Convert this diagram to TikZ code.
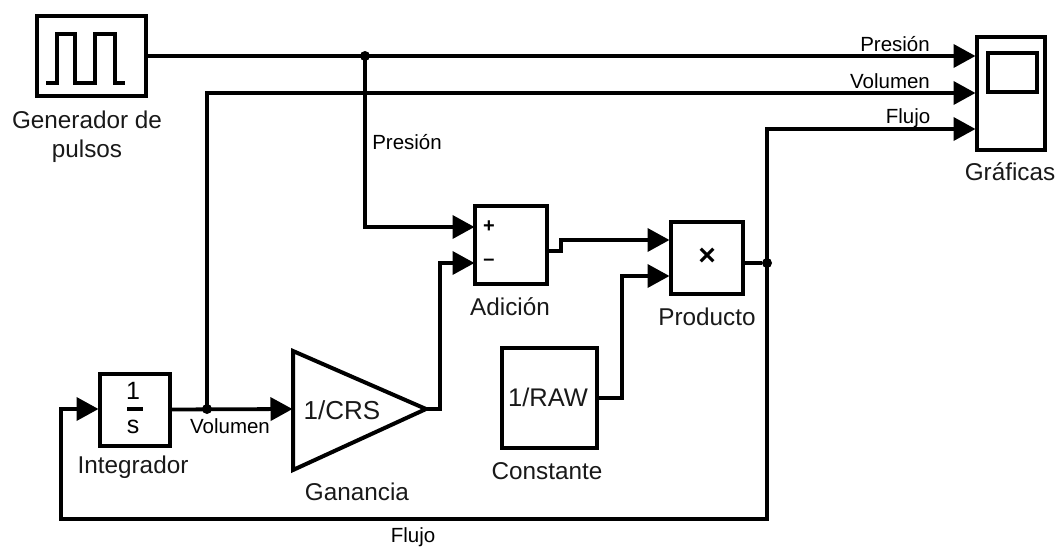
\documentclass[tikz,border=0pt]{standalone}
\usepackage{fontspec}
\setmainfont{Liberation Sans}
\usetikzlibrary{arrows.meta}
\tikzset{
  block/.style={draw=black,fill=white,line width=4pt,minimum width=#1,inner sep=0pt,outer sep=0pt},
  wire/.style={line width=3.8pt,draw=black,line join=miter},
  sig/.style={wire,-{Triangle[length=22pt,width=23pt]},shorten >=-0.5pt},
  bigl/.style={inner sep=0pt,font=\fontsize{24.3}{29}\selectfont,align=center,text=black!90},
  smalll/.style={inner sep=0pt,font=\fontsize{20.5}{22}\selectfont,text=black},
  dotn/.style={circle,fill=black,inner sep=0pt,minimum size=10pt}
}
\begin{document}
\begin{tikzpicture}[x=1pt,y=-1pt]
\useasboundingbox[fill=white] (0,0) rectangle (1056,546);
% blocks
\node[block=109pt,minimum height=80pt] (gen) at (91.5,56) {};
\node[block=68pt,minimum height=113pt] (scope) at (1010.5,93) {};
\node[block=49pt,minimum height=39pt] (screen) at (1012,72) {};
\node[block=72pt,minimum height=78pt] (sum) at (511,245) {};
\node[block=72pt,minimum height=72pt] (prod) at (706.5,257.5) {};
\node[block=70pt,minimum height=72pt] (integ) at (134.5,409.5) {};
\node[block=95pt,minimum height=100pt] (const) at (549,398) {};
\coordinate (gt) at (293,351);
\coordinate (gb) at (293,470);
\coordinate (gtip) at (426,409);
\draw[wire,line width=4pt,line join=miter] (gt) -- (gb) -- (gtip) -- cycle;
% pulse icon
\draw[line width=3.4pt] (46,83) -- (57,83) -- (57,34) -- (75,34) -- (75,83) -- (95,83) -- (95,34) -- (115,34) -- (115,83) -- (125,83);
% ports and junctions
\coordinate (si1) at (975,56);
\coordinate (si2) at (975,93);
\coordinate (si3) at (975,129);
\coordinate (sumA) at (474,227);
\coordinate (sumB) at (474,263);
\coordinate (prodA) at (669,240);
\coordinate (prodB) at (669,276);
\coordinate (ginp) at (292,409);
\coordinate (intin) at (98,409);
\node[dotn] (j1) at (365,56) {};
\node[dotn] (j2) at (207,409) {};
\node[dotn] (j3) at (767,263) {};
% connectors
\draw[sig] (gen.east |- si1) -- (si1);
\draw[sig] (j1.center) -- (j1 |- sumA) -- (sumA);
\draw[sig] (j2.center) -- (j2 |- si2) -- (si2);
\draw[sig] (j3.center) -- (j3 |- si3) -- (si3);
\draw[sig] (gtip) -- (440,409) -- (440,263) -- (sumB);
\draw[sig] (sum.east |- 0,251) -- (561,251) -- (561,240) -- (prodA);
\draw[sig] (const.east) -- (622,398) -- (622,276) -- (prodB);
\draw[wire] (prod.east |- j3) -- (j3);
\draw[sig] (j3.center) -- (767,519) -- (61,519) -- (61,409) -- (intin);
\draw[sig] (integ.east) -- (ginp);
% block contents
\node[smalll,font=\fontsize{25}{25}\selectfont] (one) at (133,391) {1};
\node[smalll,font=\fontsize{25}{25}\selectfont] (ess) at (133,427) {s};
\draw[line width=3.4pt] (127,409) -- (143,409);
\node[bigl,font=\fontsize{26}{26}\selectfont] (crs) at (342,410) {1/CRS};
\node[bigl,font=\fontsize{25.5}{26}\selectfont] (raw) at (548,397) {1/RAW};
\node[inner sep=0pt,font=\bfseries\fontsize{20}{20}\selectfont] (plus) at (489,227) {+};
\node[inner sep=0pt,font=\bfseries\fontsize{20}{20}\selectfont] (minus) at (489,262) {–};
\node[inner sep=0pt,font=\bfseries\fontsize{30}{30}\selectfont] (times) at (707,257) {×};
% labels
\node[bigl] (lgen) at (87,137) {Generador de\\pulsos};
\node[bigl] (lsc) at (1010,172) {Gráficas};
\node[bigl] (lsum) at (510,307) {Adición};
\node[bigl] (lprod) at (707,317) {Producto};
\node[bigl] (lconst) at (547,471) {Constante};
\node[bigl] (lgan) at (357,492) {Ganancia};
\node[bigl] (lint) at (133,467) {Integrador};
\node[smalll] (p1) at (895,44) {Presión};
\node[smalll] (v1) at (890,81) {Volumen};
\node[smalll] (f1) at (908,118) {Flujo};
\node[smalll] (p2) at (407,142) {Presión};
\node[smalll] (v2) at (230,426) {Volumen};
\node[smalll] (f2) at (413,537) {Flujo};
\end{tikzpicture}
\end{document}
